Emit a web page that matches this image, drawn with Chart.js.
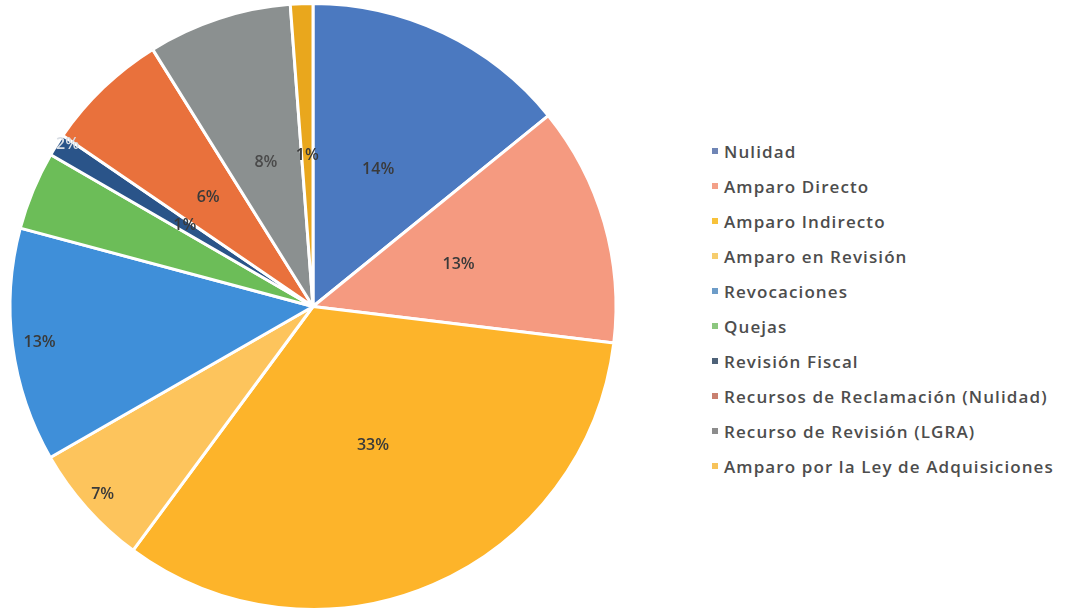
<!DOCTYPE html>
<html>
<head>
<meta charset="utf-8">
<script src="https://cdn.jsdelivr.net/npm/chart.js@4/dist/chart.umd.min.js"></script>
<style>
    body { margin: 0; background: #fff; }
    #wrap { position: relative; width: 1066px; height: 613px; }
    #pieBox { position: absolute; left: 0; top: 0; width: 626px; height: 613px; }
    #legend { position: absolute; left: 712px; top: 140px; font-family: "Open Sans", sans-serif; font-size: 17px; font-weight: 600; color: #4d4d4d; letter-spacing: 1.1px; }
    #legend div { height: 35px; line-height: 24px; white-space: nowrap; }
    #legend span.box { display: inline-block; width: 6px; height: 6px; margin-right: 6px; vertical-align: middle; position: relative; top: -2px; }
</style>
</head>
<body>
<div id="wrap">
    <div id="pieBox"><canvas id="pieChart"></canvas></div>
    <div id="legend"></div>
</div>
<script>
// categories
var categories = [
    "Nulidad",
    "Amparo Directo",
    "Amparo Indirecto",
    "Amparo en Revisión",
    "Revocaciones",
    "Quejas",
    "Revisión Fiscal",
    "Recursos de Reclamación (Nulidad)",
    "Recurso de Revisión (LGRA)",
    "Amparo por la Ley de Adquisiciones"
];
// share of each (percent)
var shares = [14.2, 12.8, 33.3, 6.6, 12.5, 4.2, 1.2, 6.6, 7.7, 1.2];
// labels printed on the slices
var sliceLabels = ["14%", "13%", "33%", "7%", "13%", "2%", "1%", "6%", "8%", "1%"];

var colors = ["#4b79c0", "#f59a80", "#fdb42a", "#fdc45c", "#3f8fd9", "#6cbd58", "#2a5489", "#e9713c", "#8b9090", "#e9a71d"];
var legendColors = ["#6f85b5", "#f3a088", "#f8c23a", "#f6cd6e", "#6d9cc8", "#8cc77f", "#4e6278", "#c98070", "#8c8c8c", "#f7c35a"];
// where each label sits: fraction of radius, and fraction along the slice
var labelPos = [0.5, 0.5, 0.5, 0.93, 0.91, 0.97, 0.5, 0.5, 0.5, 0.5];
var labelAng = [0.5, 0.5, 0.5, 0.5, 0.5, 1.22, 0.5, 0.5, 0.5, 0.5];
var labelInk = ["#3a3a3a", "#3a3a3a", "#3a3a3a", "#3a3a3a", "#3a3a3a", "#d8dde4", "#3a3a3a", "#3a3a3a", "#4a4a4a", "#3a3a3a"];

const sliceLabelPlugin = {
    id: "sliceLabels",
    afterDatasetsDraw(chart) {
        const ctx = chart.ctx;
        const meta = chart.getDatasetMeta(0);
        ctx.save();
        ctx.font = "600 16px 'Open Sans', sans-serif";
        ctx.textAlign = "center";
        ctx.textBaseline = "middle";
        meta.data.forEach((arc, i) => {
            const p = arc.getProps(["x", "y", "startAngle", "endAngle", "outerRadius"], true);
            const a = p.startAngle + (p.endAngle - p.startAngle) * labelAng[i];
            const r = p.outerRadius * labelPos[i];
            ctx.fillStyle = labelInk[i];
            ctx.fillText(sliceLabels[i], p.x + Math.cos(a) * r, p.y + Math.sin(a) * r);
        });
        ctx.restore();
    },
};

var ctx_pie = document.getElementById("pieChart");
var pieChart = new Chart(ctx_pie, {
    type: "pie",
    data: {
        labels: categories,
        datasets: [
            {
                data: shares,
                backgroundColor: colors,
                borderColor: "#ffffff",
                borderWidth: 3,
            },
        ],
    },
    options: {
        responsive: true,
        maintainAspectRatio: false,
        animation: false,
        layout: { padding: 2 },
        plugins: {
            legend: { display: false },
            tooltip: { enabled: false },
        },
    },
    plugins: [sliceLabelPlugin],
});

// html legend
var legendEl = document.getElementById("legend");
categories.forEach(function (name, i) {
    var row = document.createElement("div");
    var box = document.createElement("span");
    box.className = "box";
    box.style.background = legendColors[i];
    row.appendChild(box);
    row.appendChild(document.createTextNode(name));
    legendEl.appendChild(row);
});
</script>
</body>
</html>
